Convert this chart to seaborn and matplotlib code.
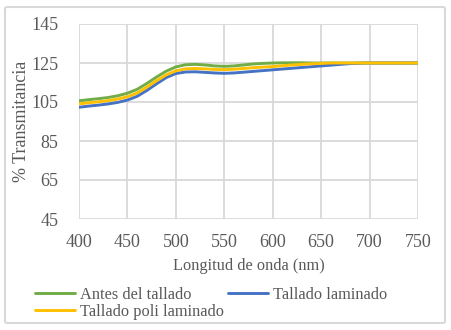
import numpy as np
import pandas as pd
import matplotlib
matplotlib.use("Agg")
import matplotlib.pyplot as plt
import seaborn as sns
from matplotlib.patches import FancyBboxPatch

wavelength = [400, 410, 420, 430, 440, 450, 460, 470, 480, 490, 500, 510, 520, 530, 540,
              550, 560, 570, 580, 590, 600, 610, 620, 630, 640, 650, 660, 670, 680, 690,
              700, 710, 720, 730, 740, 750]
antes = [105.6, 106.2, 106.7, 107.3, 108.2, 109.5, 111.5, 114.5, 117.8, 120.8, 123.0, 124.1,
         124.3, 124.0, 123.5, 123.3, 123.5, 124.0, 124.5, 124.8, 125.0, 125.1, 125.1, 125.1,
         125.0, 125.0, 125.0, 125.0, 125.0, 125.0, 125.0, 125.0, 125.0, 125.0, 125.0, 125.0]
laminado = [102.3, 102.9, 103.4, 104.0, 104.8, 106.0, 107.9, 110.9, 114.3, 117.5, 119.6, 120.4,
            120.5, 120.2, 119.9, 119.7, 119.9, 120.3, 120.7, 121.1, 121.5, 121.9, 122.3, 122.7,
            123.1, 123.5, 123.9, 124.3, 124.7, 124.9, 125.0, 125.0, 125.0, 125.0, 125.0, 125.0]
poli = [104.0, 104.6, 105.1, 105.7, 106.5, 107.7, 109.6, 112.6, 115.9, 118.9, 121.0, 122.0,
        122.2, 122.0, 121.7, 121.6, 121.8, 122.2, 122.6, 122.9, 123.2, 123.6, 124.0, 124.3,
        124.6, 124.8, 125.0, 125.0, 125.0, 125.0, 125.0, 125.0, 125.0, 125.0, 125.0, 125.0]
series_names = ["Antes del tallado", "Tallado laminado", "Tallado poli laminado"]
colors = ["#70AD47", "#4472C4", "#FFC000"]
x_ticks = [400, 450, 500, 550, 600, 650, 700, 750]
y_ticks = [45, 65, 85, 105, 125, 145]

df = pd.DataFrame({
    "x": wavelength * 3,
    "y": antes + laminado + poli,
    "serie": [series_names[0]] * len(wavelength) + [series_names[1]] * len(wavelength)
             + [series_names[2]] * len(wavelength),
})

sns.set_theme(style="white")
plt.rcParams["font.family"] = ["Liberation Serif", "DejaVu Serif"]
text_color = "#595959"

fig = plt.figure(figsize=(4.52, 3.30), dpi=100)
fig.patch.set_facecolor("white")
border = FancyBboxPatch((5 / 452, 7 / 330), 440 / 452, 316 / 330,
                        boxstyle="round,pad=0,rounding_size=0.005",
                        transform=fig.transFigure, facecolor="none",
                        edgecolor="#D9D9D9", linewidth=1.5, zorder=5)
fig.patches.append(border)

ax = fig.add_axes([79 / 452, 1 - 219 / 330, (418 - 79) / 452, (219 - 24) / 330])
ax.set_facecolor("none")
sns.lineplot(data=df, x="x", y="y", hue="serie", hue_order=series_names,
             palette=colors, linewidth=2.1, ax=ax, legend=False, zorder=3)

ax.set_xlim(400, 750)
ax.set_ylim(45, 145)
ax.set_xticks(x_ticks)
ax.set_yticks(y_ticks)
ax.grid(True, color="#D9D9D9", linewidth=1.3)
for s in ax.spines.values():
    s.set_visible(False)
ax.tick_params(axis="both", length=0, labelsize=13, colors=text_color)
ax.tick_params(axis="x", pad=11)
ax.tick_params(axis="y", pad=15)
ax.set_xlabel("Longitud de onda (nm)", fontsize=11.8, color=text_color, labelpad=5)
ax.set_ylabel("% Transmitancia", fontsize=13, color=text_color, labelpad=1)

handles = [plt.Line2D([], [], color=c, linewidth=2.1) for c in colors]
order = [0, 2, 1]
leg = fig.legend([handles[i] for i in order], [series_names[i] for i in order],
                 ncol=2, loc="upper left", bbox_to_anchor=(27 / 452, 1 - 279 / 330),
                 frameon=False, fontsize=11.8, handlelength=2.45, handletextpad=0.3,
                 columnspacing=0.2, labelspacing=0.05, borderpad=0)
for t in leg.get_texts():
    t.set_color(text_color)

fig.savefig("out.png", dpi=100)
